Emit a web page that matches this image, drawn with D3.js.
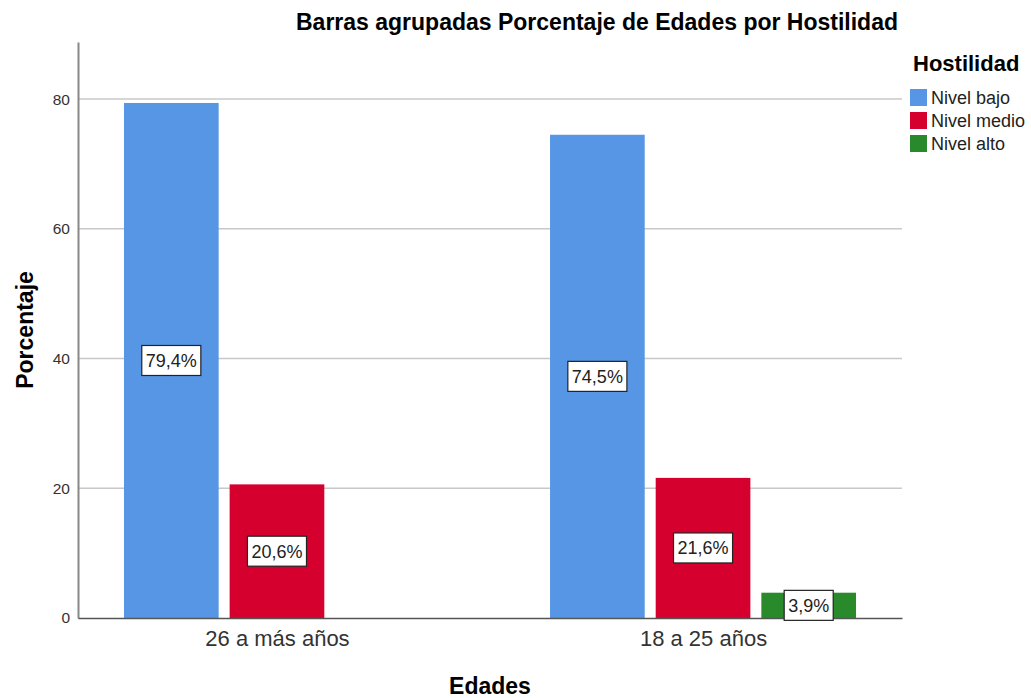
<!DOCTYPE html>
<html>
<head>
<meta charset="utf-8">
<script src="https://cdn.jsdelivr.net/npm/d3@7"></script>
<style>
  body { margin: 0; background: #fff; }
  text { font-family: "Liberation Sans", Arial, sans-serif; }
</style>
</head>
<body>
<div id="chart"></div>
<script>
// data
var categories = ["26 a más años", "18 a 25 años"];
var series = ["Nivel bajo", "Nivel medio", "Nivel alto"];
var nivelBajo = [79.4, 74.5];
var nivelMedio = [20.6, 21.6];
var nivelAlto = [null, 3.9];
var yTicks = [0, 20, 40, 60, 80];
var colors = ["#5796e5", "#d6002f", "#288a2b"];

var values = [nivelBajo, nivelMedio, nivelAlto];

var W = 1031, H = 698;
var margin = {top: 42, right: 129, bottom: 80, left: 78};
var width = W - margin.left - margin.right,
    height = H - margin.top - margin.bottom;

var svg = d3.select("#chart").append("svg")
    .attr("width", W)
    .attr("height", H);

var g = svg.append("g")
    .attr("transform", "translate(" + margin.left + "," + margin.top + ")");

// scales
var x0 = d3.scalePoint()
    .domain(categories)
    .range([0, width])
    .padding(0.467);

var x1 = d3.scaleBand()
    .domain(series)
    .range([-153, 153])
    .paddingInner(0.104);

var y = d3.scaleLinear()
    .domain([0, 88.8])
    .range([height, 0]);

// gridlines
g.selectAll(".grid")
    .data(yTicks.filter(function(d) { return d > 0; }))
  .enter().append("line")
    .attr("x1", 0)
    .attr("x2", width)
    .attr("y1", function(d) { return y(d); })
    .attr("y2", function(d) { return y(d); })
    .attr("stroke", "#c8c8c8")
    .attr("stroke-width", 1.5);

// y axis
var yAxis = g.append("g")
    .call(d3.axisLeft(y).tickValues(yTicks).tickSize(0).tickPadding(8));
yAxis.select(".domain").attr("stroke", "#888").attr("stroke-width", 2);
yAxis.selectAll("text")
    .attr("font-size", "15.5px")
    .attr("fill", "#333")
    .style("font-family", "'Liberation Sans', Arial, sans-serif");

// bars
var rows = [];
categories.forEach(function(c, i) {
  series.forEach(function(s, j) {
    if (values[j][i] != null) rows.push({cat: c, ser: s, idx: j, v: values[j][i]});
  });
});

g.selectAll(".bar")
    .data(rows)
  .enter().append("rect")
    .attr("class", "bar")
    .attr("x", function(d) { return x0(d.cat) + x1(d.ser); })
    .attr("width", x1.bandwidth())
    .attr("y", function(d) { return y(d.v); })
    .attr("height", function(d) { return height - y(d.v); })
    .attr("fill", function(d) { return colors[d.idx]; });

// x axis
var xAxis = g.append("g")
    .attr("transform", "translate(0," + height + ")")
    .call(d3.axisBottom(x0).tickSize(0).tickPadding(12));
xAxis.select(".domain").attr("stroke", "#555").attr("stroke-width", 1.5);
xAxis.selectAll("text")
    .attr("font-size", "22px")
    .attr("fill", "#333")
    .style("font-family", "'Liberation Sans', Arial, sans-serif");

// value labels
var lab = g.selectAll(".lab")
    .data(rows)
  .enter().append("g")
    .attr("class", "lab")
    .attr("transform", function(d) {
      return "translate(" + (x0(d.cat) + x1(d.ser) + x1.bandwidth() / 2) + "," + y(d.v / 2) + ")";
    });

lab.append("text")
    .attr("text-anchor", "middle")
    .attr("dy", "0.35em")
    .attr("font-size", "18px")
    .attr("fill", "#222")
    .text(function(d) { return d3.format(".1f")(d.v).replace(".", ",") + "%"; });

lab.each(function() {
  var t = d3.select(this).select("text");
  var bb = t.node().getBBox();
  d3.select(this).insert("rect", "text")
    .attr("x", bb.x - 4)
    .attr("y", -15)
    .attr("width", bb.width + 8)
    .attr("height", 30)
    .attr("fill", "#fff")
    .attr("stroke", "#222")
    .attr("stroke-width", 1.2);
});

// titles
svg.append("text")
    .attr("x", 597)
    .attr("y", 30)
    .attr("text-anchor", "middle")
    .attr("font-size", "23px")
    .attr("font-weight", "bold")
    .text("Barras agrupadas Porcentaje de Edades por Hostilidad");

svg.append("text")
    .attr("transform", "translate(33,330) rotate(-90)")
    .attr("text-anchor", "middle")
    .attr("font-size", "23px")
    .attr("font-weight", "bold")
    .text("Porcentaje");

svg.append("text")
    .attr("x", 490)
    .attr("y", 694)
    .attr("text-anchor", "middle")
    .attr("font-size", "23px")
    .attr("font-weight", "bold")
    .text("Edades");

// legend
var legend = svg.append("g")
    .attr("transform", "translate(910,0)");

legend.append("text")
    .attr("x", 3)
    .attr("y", 71)
    .attr("font-size", "22px")
    .attr("font-weight", "bold")
    .text("Hostilidad");

var li = legend.selectAll(".li")
    .data(series)
  .enter().append("g")
    .attr("transform", function(d, i) { return "translate(0," + (89 + i * 23) + ")"; });

li.append("rect")
    .attr("width", 17)
    .attr("height", 17)
    .attr("fill", function(d, i) { return colors[i]; });

li.append("text")
    .attr("x", 21)
    .attr("y", 9)
    .attr("dy", "0.35em")
    .attr("font-size", "18px")
    .attr("fill", "#222")
    .text(function(d) { return d; });
</script>
</body>
</html>
